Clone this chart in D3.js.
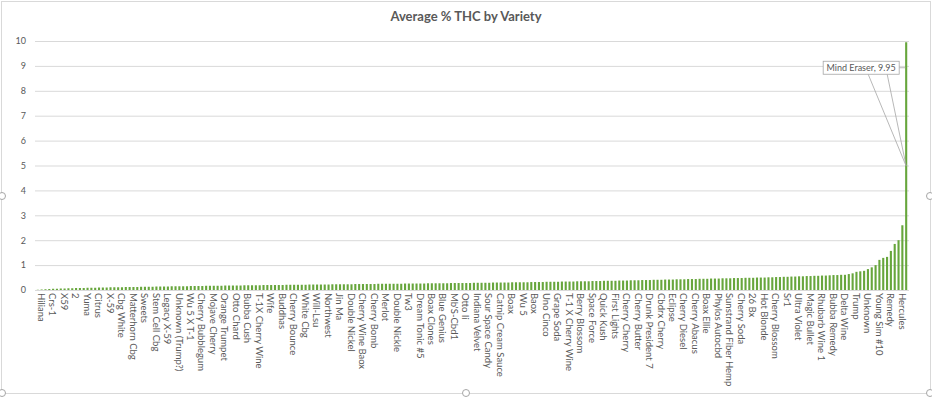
<!DOCTYPE html>
<html>
<head>
<meta charset="utf-8">
<script src="https://cdn.jsdelivr.net/npm/d3@7"></script>
<style>
  html, body { margin: 0; padding: 0; background: #fff; }
  svg { display: block; }
  text { font-family: Lato, "Liberation Sans", sans-serif; fill: #595959; }
</style>
</head>
<body>
<svg id="chart"></svg>
<script>
// visible category labels, one under every 3rd bar
const tickLabels = [
  "Hiliana", "Crs-1", "X59", "2", "Yuma", "Citrus", "X-59", "Cbg White", "Matterhorn Cbg", "Sweets",
  "Stem Cell Cbg", "Legacy X-59", "Unknown (Trump?)", "Wu 5 X T-1", "Cherry Bubblegum", "Mojave Cherry",
  "Orange Trumpet", "Otto Chard", "Bubba Cush", "T-1X Cherry Wine", "Wife", "Buddhas", "Cherry Bounce",
  "White Cbg", "Will-Lsu", "Northwest", "Jin Ma", "Double Nickel", "Cherry Wine Baox", "Cherry Bomb",
  "Merlot", "Double Nickle", "Tw3", "Dream Tonic #5", "Boax Clones", "Blue Genius", "Mb'S-Cbd1", "Otto Ii",
  "Indiana Velvet", "Sour Space Candy", "Catnip Cream Sauce", "Boax", "Wu 5", "Baox", "Uno Cinco",
  "Grape Soda", "T-1 X Cherry Wine", "Berry Blossom", "Space Force", "Quick Kush", "First Lights",
  "Cherry Cherry", "Cherry Butter", "Drunk President 7", "Cbdrx Cherry", "Eclipse", "Cherry Diesel",
  "Cherry Abacus", "Boax Ellie", "Phylos Autocbd", "Sunstrand Fiber Hemp", "Cherry Soda", "26 Bx",
  "Hot Blonde", "Cherry Blossom", "Sr1", "Ultra Violet", "Magic Bullet", "Rhubarb Wine 1", "Bubba Remedy",
  "Delta Wine", "Trump", "Unknown", "Young Sim #10", "Remedy", "Hercules"
];
const labelStep = 3;

// average % THC per variety, sorted ascending
const thcValues = [
  0.01, 0.02, 0.03, 0.04, 0.05, 0.05, 0.06, 0.06, 0.07, 0.07,
  0.08, 0.08, 0.08, 0.09, 0.09, 0.09, 0.10, 0.10, 0.10, 0.11,
  0.11, 0.11, 0.11, 0.12, 0.12, 0.12, 0.12, 0.13, 0.13, 0.13,
  0.13, 0.14, 0.14, 0.14, 0.14, 0.15, 0.15, 0.15, 0.15, 0.15,
  0.16, 0.16, 0.16, 0.16, 0.17, 0.17, 0.17, 0.17, 0.17, 0.18,
  0.18, 0.18, 0.18, 0.18, 0.19, 0.19, 0.19, 0.19, 0.19, 0.20,
  0.20, 0.20, 0.20, 0.20, 0.20, 0.21, 0.21, 0.21, 0.21, 0.21,
  0.21, 0.22, 0.22, 0.22, 0.22, 0.22, 0.22, 0.23, 0.23, 0.23,
  0.23, 0.23, 0.23, 0.24, 0.24, 0.24, 0.24, 0.24, 0.24, 0.25,
  0.25, 0.25, 0.25, 0.25, 0.25, 0.25, 0.26, 0.26, 0.26, 0.26,
  0.26, 0.26, 0.27, 0.27, 0.27, 0.27, 0.27, 0.27, 0.28, 0.28,
  0.28, 0.28, 0.28, 0.28, 0.29, 0.29, 0.29, 0.29, 0.29, 0.30,
  0.30, 0.30, 0.30, 0.30, 0.31, 0.31, 0.31, 0.31, 0.31, 0.32,
  0.32, 0.32, 0.32, 0.33, 0.33, 0.33, 0.33, 0.34, 0.34, 0.34,
  0.34, 0.35, 0.35, 0.35, 0.35, 0.36, 0.36, 0.36, 0.37, 0.37,
  0.37, 0.37, 0.38, 0.38, 0.38, 0.39, 0.39, 0.39, 0.40, 0.40,
  0.40, 0.41, 0.41, 0.41, 0.42, 0.42, 0.42, 0.43, 0.43, 0.43,
  0.44, 0.44, 0.44, 0.45, 0.45, 0.45, 0.46, 0.46, 0.46, 0.47,
  0.47, 0.47, 0.48, 0.48, 0.48, 0.49, 0.49, 0.49, 0.50, 0.50,
  0.50, 0.51, 0.51, 0.52, 0.52, 0.53, 0.53, 0.54, 0.54, 0.55,
  0.55, 0.56, 0.56, 0.57, 0.57, 0.58, 0.58, 0.59, 0.60, 0.60,
  0.61, 0.61, 0.64, 0.67, 0.73, 0.75, 0.77, 0.84, 0.91, 1.00,
  1.21, 1.29, 1.33, 1.57, 1.85, 2.00, 2.60, 9.95
];

const yTicks = [0, 1, 2, 3, 4, 5, 6, 7, 8, 9, 10];
const calloutName = "Mind Eraser";

const width = 932, height = 397;
const margin = {top: 41, right: 24, bottom: 107, left: 36};

const d3svg = d3.select('#chart')
  .attr('width', width)
  .attr('height', height);

// chart area frame
d3svg.append('rect')
  .attr('x', 1.5).attr('y', 1.5)
  .attr('width', width - 3).attr('height', height - 5)
  .attr('fill', '#fff')
  .attr('stroke', '#d9d9d9');

d3svg.append('text')
  .attr('x', width / 2)
  .attr('y', 21)
  .attr('text-anchor', 'middle')
  .style('font-size', '13px')
  .style('font-weight', 'bold')
  .text('Average % THC by Variety');

const x = d3.scaleBand()
  .domain(d3.range(thcValues.length))
  .range([margin.left, width - margin.right])
  .paddingInner(0.45)
  .paddingOuter(0.2);

const y = d3.scaleLinear()
  .domain([0, 10])
  .range([height - margin.bottom, margin.top]);

// gridlines + y labels
const yAxis = d3.axisLeft(y)
  .tickValues(yTicks)
  .tickSize(-(width - margin.right - margin.left + 2))
  .tickPadding(9);

const gy = d3svg.append('g')
  .attr('transform', `translate(${margin.left - 1},0)`)
  .call(yAxis);
gy.select('.domain').remove();
gy.selectAll('.tick line').attr('stroke', '#d9d9d9');
gy.selectAll('.tick text').style('font-size', '9px').attr('fill', '#595959');

// bars
d3svg.append('g')
  .selectAll('rect')
  .data(thcValues)
  .enter().append('rect')
  .attr('x', (d, i) => x(i))
  .attr('width', x.bandwidth())
  .attr('y', d => y(d))
  .attr('height', d => y(0) - y(d))
  .attr('fill', '#67a63c');

// category labels under every 3rd bar
const xLabels = d3svg.append('g');
tickLabels.forEach(function(name, k) {
  const i = k * labelStep;
  const cx = x(i) + x.bandwidth() / 2;
  xLabels.append('text')
    .attr('transform', `translate(${cx},${y(0) + 3}) rotate(90)`)
    .style('font-size', '9.5px')
    .attr('fill', '#4d4d4d')
    .text(name);
});

// data callout for the tallest bar
const last = thcValues.length - 1;
const bx = x(last) + x.bandwidth() / 2;
const topVal = thcValues[last];
const anchorY = y(topVal / 2);
const boxW = 76, boxH = 13;
const boxR = bx - 7, boxTop = y(topVal) + 19;
const callout = d3svg.append('g');
callout.append('path')
  .attr('d', `M${boxR - 31},${boxTop + boxH} L${bx},${anchorY} L${boxR - 12},${boxTop + boxH}`)
  .attr('fill', 'none')
  .attr('stroke', '#a6a6a6')
  .attr('stroke-width', 0.8);
callout.append('path')
  .attr('d', `M${boxR},${boxTop + boxH / 2} L${bx - 1},${boxTop + boxH / 2}`)
  .attr('stroke', '#a6a6a6')
  .attr('stroke-width', 0.8);
callout.append('rect')
  .attr('x', boxR - boxW).attr('y', boxTop)
  .attr('width', boxW).attr('height', boxH)
  .attr('fill', '#fff')
  .attr('stroke', '#a6a6a6')
  .attr('stroke-width', 0.8);
callout.append('text')
  .attr('x', boxR - boxW / 2)
  .attr('y', boxTop + 9.5)
  .attr('text-anchor', 'middle')
  .style('font-size', '9px')
  .text(calloutName + ', ' + topVal);

// selection handles on the frame
const handles = [[2, 196], [width - 2, 196], [2, height - 4], [width / 2, height - 4], [width - 2, height - 4]];
d3svg.append('g')
  .selectAll('circle')
  .data(handles)
  .enter().append('circle')
  .attr('cx', d => d[0]).attr('cy', d => d[1])
  .attr('r', 3.5)
  .attr('fill', '#fff')
  .attr('stroke', '#a6a6a6');
</script>
</body>
</html>
